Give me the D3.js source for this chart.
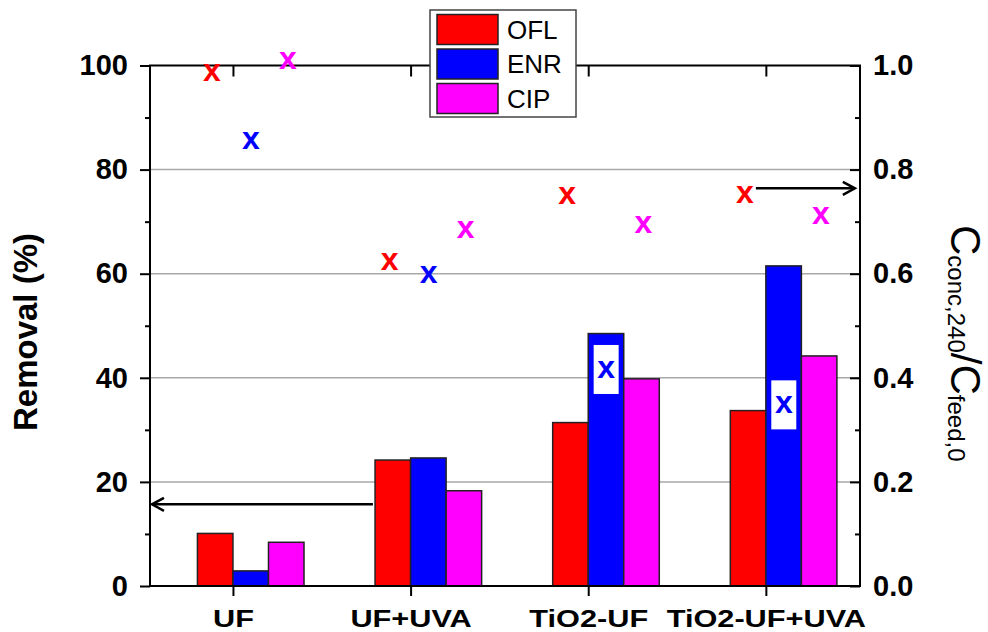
<!DOCTYPE html>
<html>
<head>
<meta charset="utf-8">
<script src="https://cdn.jsdelivr.net/npm/d3@7"></script>
<style>
  html, body { margin: 0; padding: 0; background: #fff; }
  svg { display: block; font-family: Arial, "Liberation Sans", sans-serif; }
</style>
</head>
<body>
<svg id="chart" width="988" height="632"></svg>
<script>
// Treatment processes on the x axis
const categories = ["UF", "UF+UVA", "TiO2-UF", "TiO2-UF+UVA"];
const seriesNames = ["OFL", "ENR", "CIP"];
const seriesColors = ["#ff0000", "#0000ff", "#ff00ff"];

// Removal (%) — bars, left axis
const removalOFL = [10.1, 24.2, 31.4, 33.7];
const removalENR = [2.9, 24.6, 48.5, 61.5];
const removalCIP = [8.4, 18.3, 39.8, 44.2];

// C_conc,240 / C_feed,0 — "x" markers, right axis
const ratioOFL = [0.986, 0.624, 0.749, 0.751];
const ratioENR = [0.855, 0.598, 0.416, 0.348];
const ratioCIP = [1.009, 0.684, 0.694, 0.711];

// Axis ticks
const leftTicks = [0, 20, 40, 60, 80, 100];
const leftMinorTicks = [10, 30, 50, 70, 90];
const rightTicks = [0, 0.2, 0.4, 0.6, 0.8, 1.0];
const rightMinorTicks = [0.1, 0.3, 0.5, 0.7, 0.9];

const removal = [removalOFL, removalENR, removalCIP];
const ratio = [ratioOFL, ratioENR, ratioCIP];

const svg = d3.select("#chart");
const plot = { left: 150, right: 860, top: 65.5, bottom: 586 };

// Category positions as a continuous axis (1..4)
const x = d3.scaleLinear().domain([0.533, 4.53]).range([plot.left, plot.right]);
const yL = d3.scaleLinear().domain([0, 100]).range([plot.bottom, plot.top]);
const yR = d3.scaleLinear().domain([0, 1]).range([plot.bottom, plot.top]);

const barW = 0.2;                       // bar width in category units
const barOffset = [-0.2, 0, 0.2];       // left edge of each series' bar
const markOffset = [-0.118, 0.101, 0.31]; // dodge for the "x" markers

// Gridlines
svg.append("g")
  .selectAll("line")
  .data([20, 40, 60, 80])
  .join("line")
  .attr("x1", plot.left).attr("x2", plot.right)
  .attr("y1", d => yL(d)).attr("y2", d => yL(d))
  .attr("stroke", "#a8a8a8").attr("stroke-width", 1.5);

// Bars
const bars = svg.append("g");
removal.forEach((vals, s) => {
  bars.selectAll(null)
    .data(vals)
    .join("rect")
    .attr("x", (d, i) => x(i + 1 + barOffset[s]))
    .attr("width", x(barW) - x(0))
    .attr("y", d => yL(d))
    .attr("height", d => yL(0) - yL(d))
    .attr("fill", seriesColors[s])
    .attr("stroke", "#222")
    .attr("stroke-width", 1.5);
});

// Axes
function styleAxis(g) {
  g.select(".domain").remove();
  g.selectAll(".tick line").attr("stroke", "#000").attr("stroke-width", 2);
  g.selectAll("text").attr("fill", "#000");
}

svg.append("g")
  .attr("transform", `translate(${plot.left},0)`)
  .call(d3.axisLeft(yL).tickValues(leftTicks).tickSize(10).tickPadding(12))
  .call(styleAxis)
  .call(g => g.selectAll("text").attr("font-size", 29).attr("font-weight", "bold"));
svg.append("g")
  .attr("transform", `translate(${plot.left},0)`)
  .call(d3.axisLeft(yL).tickValues(leftMinorTicks).tickSize(5).tickFormat(""))
  .call(styleAxis);

svg.append("g")
  .attr("transform", `translate(${plot.right},0)`)
  .call(d3.axisRight(yR).tickValues(rightTicks).tickSize(-10).tickPadding(13)
    .tickFormat(d3.format(".1f")))
  .call(styleAxis)
  .call(g => g.selectAll("text").attr("font-size", 29).attr("font-weight", "bold"));
svg.append("g")
  .attr("transform", `translate(${plot.right},0)`)
  .call(d3.axisRight(yR).tickValues(rightMinorTicks).tickSize(-5).tickFormat(""))
  .call(styleAxis);

svg.append("g")
  .attr("transform", `translate(0,${plot.bottom})`)
  .call(d3.axisBottom(x).tickValues([1, 2, 3, 4]).tickSize(10)
    .tickFormat(d => categories[d - 1]))
  .call(styleAxis)
  .call(g => g.selectAll("text")
    .attr("font-size", 24).attr("font-weight", "bold")
    .attr("y", 41).attr("dy", 0)
    .attr("transform", "scale(1.28,1)"));

svg.append("g")
  .attr("transform", `translate(0,${plot.top})`)
  .call(d3.axisTop(x).tickValues([1, 2, 3, 4]).tickSize(-11).tickFormat(""))
  .call(styleAxis);

// Frame
svg.append("rect")
  .attr("x", plot.left).attr("y", plot.top)
  .attr("width", plot.right - plot.left).attr("height", plot.bottom - plot.top)
  .attr("fill", "none").attr("stroke", "#000").attr("stroke-width", 2);

// Markers (with a white backing where they sit inside a bar)
const markSize = 32;
const marks = svg.append("g");
ratio.forEach((vals, s) => {
  vals.forEach((v, i) => {
    const cx = x(i + 1 + markOffset[s]);
    const cy = yR(v);
    if (v * 100 < removal[s][i]) {
      marks.append("rect")
        .attr("x", cx - 12.5).attr("y", cy - 24.5)
        .attr("width", 25).attr("height", 49)
        .attr("fill", "#fff");
    }
    marks.append("text")
      .attr("x", cx).attr("y", cy + 0.26 * markSize)
      .attr("text-anchor", "middle")
      .attr("font-size", markSize).attr("font-weight", "bold")
      .attr("fill", seriesColors[s])
      .text("x");
  });
});

// Arrows pointing to the axis each series belongs to
const arrows = [
  { from: [1.788, 15.7], to: [0.544, 15.7], scale: yL },
  { from: [3.944, 0.764], to: [4.501, 0.764], scale: yR }
];
arrows.forEach(a => {
  const x1 = x(a.from[0]), x2 = x(a.to[0]);
  const yy = a.scale(a.from[1]);
  const dir = Math.sign(x2 - x1);
  svg.append("line")
    .attr("x1", x1).attr("x2", x2).attr("y1", yy).attr("y2", yy)
    .attr("stroke", "#000").attr("stroke-width", 2.5);
  svg.append("path")
    .attr("d", `M${x2 - dir * 12},${yy - 6.5} L${x2},${yy} L${x2 - dir * 12},${yy + 6.5}`)
    .attr("fill", "none").attr("stroke", "#000").attr("stroke-width", 2.5);
});

// Legend
const legend = svg.append("g");
legend.append("rect")
  .attr("x", 430).attr("y", 10).attr("width", 146).attr("height", 107)
  .attr("fill", "#fff").attr("stroke", "#444").attr("stroke-width", 1.5);
seriesNames.forEach((name, s) => {
  const top = 14.5 + s * 34.5;
  legend.append("rect")
    .attr("x", 437).attr("y", top).attr("width", 61).attr("height", 30)
    .attr("fill", seriesColors[s]).attr("stroke", "#222").attr("stroke-width", 1.5);
  legend.append("text")
    .attr("x", 507).attr("y", top + 24)
    .attr("font-size", 26).attr("fill", "#000")
    .text(name);
});

// Axis titles
svg.append("text")
  .attr("transform", "translate(37,332) rotate(-90)")
  .attr("text-anchor", "middle")
  .attr("font-size", 33).attr("font-weight", "bold")
  .text("Removal (%)");

const rt = svg.append("text")
  .attr("transform", "translate(951,225) rotate(90)")
  .attr("text-anchor", "start");
rt.append("tspan").attr("font-size", 42).text("C");
rt.append("tspan").attr("font-size", 24).attr("dy", 3).text("conc,240");
rt.append("tspan").attr("font-size", 42).attr("dy", -3).text("/");
rt.append("tspan").attr("font-size", 42).text("C");
rt.append("tspan").attr("font-size", 24).attr("dy", 3).text("feed,0");
</script>
</body>
</html>
